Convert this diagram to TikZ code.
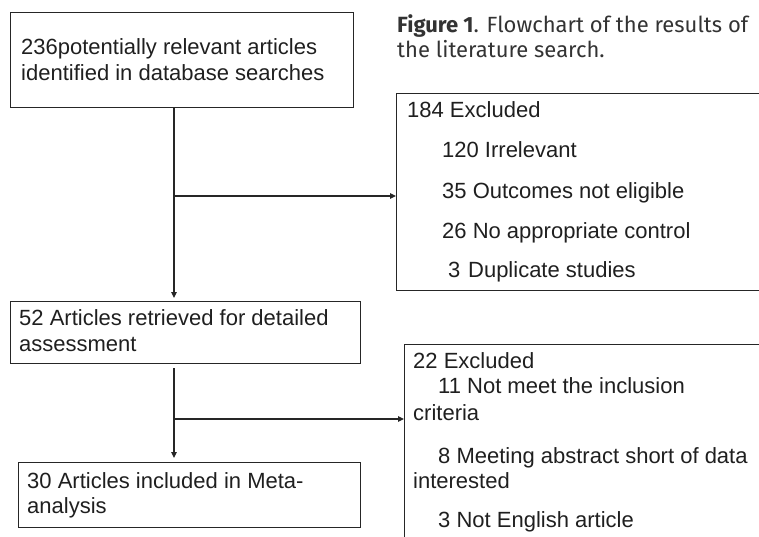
\documentclass[tikz,border=0pt]{standalone}
\usepackage{fontspec}
\setmainfont{Liberation Sans}
\newfontfamily\capfont{Fira Sans}
\usetikzlibrary{arrows.meta}
\begin{document}
\begin{tikzpicture}[x=1pt,y=-1pt,
  box/.style={draw=black!85, line width=1.3pt, rectangle, inner sep=0pt, anchor=north west},
  txt/.style={anchor=base west, inner sep=0pt, font=\fontsize{22}{24}\selectfont, text=black!88},
  captxt/.style={anchor=base west, inner sep=0pt, font=\capfont\fontsize{22}{24}\selectfont, text=black!80},
  arr/.style={-{Triangle[length=6pt,width=5.5pt]}, line width=1.2pt, draw=black!85},
  ln/.style={line width=1.2pt, draw=black!85}]
\useasboundingbox (0,0) rectangle (759,536);
\clip (0,0) rectangle (759,536);
% boxes
\node[box, minimum width=343pt, minimum height=95pt] (b1) at (10,12) {};
\node[box, minimum width=380pt, minimum height=197pt] (b2) at (396,93) {};
\node[box, minimum width=350pt, minimum height=62pt] (b3) at (10,301) {};
\node[box, minimum width=380pt, minimum height=220pt] (b4) at (404,344) {};
\node[box, minimum width=342pt, minimum height=65pt] (b5) at (18,462) {};
% caption
\node[captxt] (c1) at (397,32) {\textbf{Figure 1}. Flowchart of the results of};
\node[captxt] (c2) at (397,57) {the literature search.};
% box texts
\node[txt] (t11) at (21,54) {236potentially relevant articles};
\node[txt] (t12) at (21,80) {identified in database searches};
\node[txt] (t21) at (407,117) {184 Excluded};
\node[txt] (t22) at (442,157) {120 Irrelevant};
\node[txt] (t23) at (442,198) {35 Outcomes not eligible};
\node[txt] (t24) at (442,238) {26 No appropriate control};
\node[txt] (t25) at (448,277) {3\hspace{0.35em}Duplicate studies};
\node[txt] (t31) at (19,325) {52 Articles retrieved for detailed};
\node[txt] (t32) at (19,351) {assessment};
\node[txt] (t41) at (413,368) {22 Excluded};
\node[txt] (t42) at (438,393) {11 Not meet the inclusion};
\node[txt] (t43) at (413,420) {criteria};
\node[txt] (t44) at (438,463) {8 Meeting abstract short of data};
\node[txt] (t45) at (413,488) {interested};
\node[txt] (t46) at (438,527) {3 Not English article};
\node[txt] (t51) at (27,488) {30 Articles included in Meta-};
\node[txt] (t52) at (27,513) {analysis};
% connectors
\coordinate (j1) at (174,196);
\coordinate (j2) at (174,419);
\draw[arr, shorten >=3pt] (b1.south -| j1) -- (b3.north -| j1);
\draw[arr] (j1) -- (j1 -| b2.west);
\draw[arr, shorten <=4pt, shorten >=4pt] (b3.south -| j2) -- (b5.north -| j2);
\draw[arr] (j2) -- (j2 -| b4.west);
\end{tikzpicture}
\end{document}
